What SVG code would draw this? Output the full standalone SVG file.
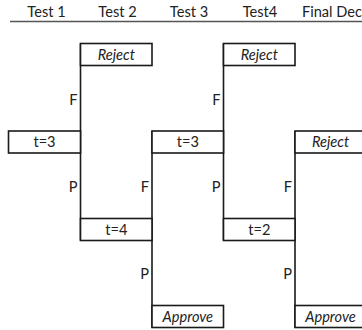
<svg xmlns="http://www.w3.org/2000/svg" width="362" height="330" viewBox="0 0 362 330">
  <style>
    .box { fill: #ffffff; stroke: #1a1a1a; stroke-width: 1.6; }
    .wire { stroke: #1a1a1a; stroke-width: 1.6; fill: none; }
    .rule { stroke: #555555; stroke-width: 1.6; }
    text { font-family: Lato, "Liberation Sans", Arial, sans-serif; font-size: 14.6px; fill: #222222; }
    .c { text-anchor: middle; }
    .r { text-anchor: end; }
    .i { font-style: italic; }
  </style>
  <rect width="362" height="330" fill="#ffffff"/>

  <!-- column headers -->
  <g id="header">
    <text class="c" x="46.5" y="17">Test 1</text>
    <text class="c" x="117.5" y="17">Test 2</text>
    <text class="c" x="189" y="17">Test 3</text>
    <text class="c" x="260" y="17">Test4</text>
    <text x="302" y="17">Final Dec</text>
    <line class="rule" x1="10" y1="21.5" x2="362" y2="21.5"/>
  </g>

  <!-- branch lines -->
  <g id="connectors">
    <line class="wire" x1="80.5" y1="43.5" x2="80.5" y2="240.5"/>
    <line class="wire" x1="152" y1="131" x2="152" y2="327.5"/>
    <line class="wire" x1="223.5" y1="43.5" x2="223.5" y2="240.5"/>
    <line class="wire" x1="295" y1="131" x2="295" y2="327.5"/>
    <text class="r" x="77.5" y="104.5">F</text>
    <text class="r" x="77.5" y="191.5">P</text>
    <text class="r" x="149" y="191.5">F</text>
    <text class="r" x="149" y="278.5">P</text>
    <text class="r" x="220.5" y="104.5">F</text>
    <text class="r" x="220.5" y="191.5">P</text>
    <text class="r" x="292" y="191.5">F</text>
    <text class="r" x="292" y="278.5">P</text>
  </g>

  <g id="test1">
    <rect class="box" x="8.5" y="131" width="72" height="22"/>
    <text class="c" x="44.5" y="147">t=3</text>
  </g>
  <g id="reject1">
    <rect class="box" x="80.5" y="43.5" width="71.5" height="22"/>
    <text class="c i" x="116.3" y="59.5">Reject</text>
  </g>
  <g id="test2">
    <rect class="box" x="80.5" y="218.5" width="71.5" height="22"/>
    <text class="c" x="116.3" y="234.5">t=4</text>
  </g>
  <g id="test3">
    <rect class="box" x="152" y="131" width="71.5" height="22"/>
    <text class="c" x="187.8" y="147">t=3</text>
  </g>
  <g id="approve1">
    <rect class="box" x="152" y="305.5" width="71.5" height="22"/>
    <text class="c i" x="187.8" y="321.5">Approve</text>
  </g>
  <g id="reject2">
    <rect class="box" x="223.5" y="43.5" width="71.5" height="22"/>
    <text class="c i" x="259.3" y="59.5">Reject</text>
  </g>
  <g id="test4">
    <rect class="box" x="223.5" y="218.5" width="71.5" height="22"/>
    <text class="c" x="259.3" y="234.5">t=2</text>
  </g>
  <g id="reject3">
    <rect class="box" x="295" y="131" width="72" height="22"/>
    <text class="c i" x="330.5" y="147">Reject</text>
  </g>
  <g id="approve2">
    <rect class="box" x="295" y="305.5" width="72" height="22"/>
    <text class="c i" x="330.5" y="321.5">Approve</text>
  </g>
</svg>
